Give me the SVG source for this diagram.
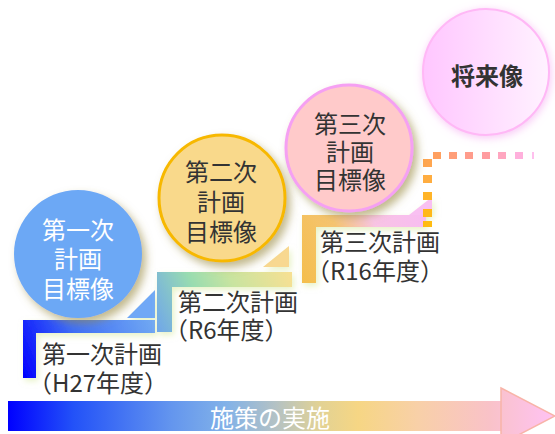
<svg xmlns="http://www.w3.org/2000/svg" width="555" height="434" viewBox="0 0 555 434">
<style>
  text { font-family: "Noto Sans CJK JP", "Noto Sans", sans-serif; font-size: 24px; dominant-baseline: central; }
  .cw { fill: #ffffff; text-anchor: middle; }
  .cd { fill: #333333; text-anchor: middle; }
  .lbl { fill: #333333; }
</style>
<defs>
  <filter id="shadow" x="-30%" y="-30%" width="170%" height="170%">
    <feDropShadow dx="4" dy="5" stdDeviation="4" flood-color="#9a8a40" flood-opacity="0.6"/>
  </filter>
  <filter id="pglow" x="-30%" y="-30%" width="160%" height="160%">
    <feDropShadow dx="1" dy="2" stdDeviation="4" flood-color="#f4a0f0" flood-opacity="0.6"/>
  </filter>
  <filter id="sglow" x="-20%" y="-20%" width="140%" height="150%">
    <feDropShadow dx="2" dy="3" stdDeviation="3" flood-color="#d8eaa0" flood-opacity="0.6"/>
  </filter>
  <linearGradient id="g1" gradientUnits="userSpaceOnUse" x1="23" y1="378" x2="155" y2="320">
    <stop offset="0" stop-color="#0000ff"/>
    <stop offset="0.45" stop-color="#3f6ef6"/>
    <stop offset="1" stop-color="#72aaf2"/>
  </linearGradient>
  <linearGradient id="g2" gradientUnits="userSpaceOnUse" x1="157" y1="332" x2="292" y2="272">
    <stop offset="0" stop-color="#6fa6ea"/>
    <stop offset="0.35" stop-color="#98dcb0"/>
    <stop offset="0.6" stop-color="#c8e4a0"/>
    <stop offset="1" stop-color="#f8e092"/>
  </linearGradient>
  <linearGradient id="g3" gradientUnits="userSpaceOnUse" x1="302" y1="283" x2="426" y2="215">
    <stop offset="0" stop-color="#f4be4c"/>
    <stop offset="0.4" stop-color="#f5c470"/>
    <stop offset="0.65" stop-color="#f8c4e4"/>
    <stop offset="1" stop-color="#f8bcf2"/>
  </linearGradient>
  <linearGradient id="g4" x1="0" y1="0" x2="1" y2="0">
    <stop offset="0" stop-color="#ffc6ff"/>
    <stop offset="1" stop-color="#fff2ff"/>
  </linearGradient>
  <linearGradient id="ga" gradientUnits="userSpaceOnUse" x1="8" y1="0" x2="555" y2="0">
    <stop offset="0" stop-color="#0000ff"/>
    <stop offset="0.12" stop-color="#2352f8"/>
    <stop offset="0.3" stop-color="#6496ee"/>
    <stop offset="0.4" stop-color="#82b2e8"/>
    <stop offset="0.49" stop-color="#b4c2c4"/>
    <stop offset="0.57" stop-color="#e2d294"/>
    <stop offset="0.64" stop-color="#f6d684"/>
    <stop offset="0.75" stop-color="#f8d0a8"/>
    <stop offset="0.88" stop-color="#f9c2c8"/>
    <stop offset="1" stop-color="#ffc2f4"/>
  </linearGradient>
</defs>

<rect width="555" height="434" fill="#ffffff"/>

<g id="steps">
  <g id="step1" filter="url(#sglow)">
    <polygon points="23,320 155,320 155,333 36,333 36,378 23,378" fill="url(#g1)"/>
    <polygon points="155,290 155,318 127,318" fill="#70a8f6"/>
  </g>
  <g id="step2" filter="url(#sglow)">
    <polygon points="157,272 292,272 292,287 172,287 172,332 157,332" fill="url(#g2)"/>
    <polygon points="289,246 289,267 263,267" fill="#f8d890"/>
  </g>
  <g id="step3" filter="url(#sglow)">
    <polygon points="302,215 426,215 426,227 316,227 316,283 302,283" fill="url(#g3)"/>
    <polygon points="432,197 432,215 409,215" fill="#f9c0f2"/>
  </g>
</g>

<g id="connectors">
  <rect x="423" y="221" width="9" height="6" fill="#ffbb10"/>
  <rect x="423" y="209" width="9" height="8" fill="#ffb818"/>
  <rect x="423" y="192" width="9" height="8" fill="#ffb428"/>
  <rect x="423" y="175" width="9" height="8" fill="#ffad40"/>
  <rect x="423" y="159" width="9" height="8" fill="#ffa650"/>
  <rect x="433" y="152" width="8" height="7" fill="#ffa060"/>
  <rect x="449" y="152" width="8" height="7" fill="#ff9e78"/>
  <rect x="465" y="152" width="8" height="7" fill="#ff9c8c"/>
  <rect x="482" y="152" width="8" height="7" fill="#ff9ca0"/>
  <rect x="498" y="152" width="8" height="7" fill="#ffa6c0"/>
  <rect x="515" y="152" width="8" height="7" fill="#ffb0dc"/>
  <rect x="532" y="152" width="2" height="7" fill="#ffc0ee"/>
</g>

<g id="arrow">
  <rect x="8" y="401" width="494" height="30" fill="url(#ga)"/>
  <polygon points="501,388 555,416 501,444" fill="url(#ga)" stroke="#f8b4a8" stroke-width="1.5"/>
  <text class="cw" x="270" y="416">施策の実施</text>
</g>

<g id="goal1">
  <circle cx="78" cy="254" r="64" fill="#6ca8f5" filter="url(#shadow)"/>
  <text class="cw"><tspan x="78" y="228">第一次</tspan><tspan x="78" y="257">計画</tspan><tspan x="78" y="287">目標像</tspan></text>
</g>

<g id="goal2">
  <circle cx="222" cy="198" r="63" fill="#f9d98b" stroke="#f7b800" stroke-width="3" filter="url(#shadow)"/>
  <text class="cd"><tspan x="221" y="170">第二次</tspan><tspan x="221" y="200">計画</tspan><tspan x="221" y="230">目標像</tspan></text>
</g>

<g id="goal3">
  <circle cx="349" cy="148" r="63" fill="#ffcaca" stroke="#f5a0f2" stroke-width="3" filter="url(#shadow)"/>
  <text class="cd"><tspan x="350" y="122">第三次</tspan><tspan x="350" y="150">計画</tspan><tspan x="350" y="178">目標像</tspan></text>
</g>

<g id="future">
  <circle cx="486" cy="72" r="63" fill="url(#g4)" stroke="#ffb8f6" stroke-width="2" filter="url(#pglow)"/>
  <text class="cd" x="487" y="74" font-weight="bold">将来像</text>
</g>

<g id="label1">
  <text class="lbl"><tspan x="42" y="352">第一次計画</tspan><tspan x="28" y="381">（H27年度）</tspan></text>
</g>
<g id="label2">
  <text class="lbl"><tspan x="178" y="300">第二次計画</tspan><tspan x="164" y="328">（R6年度）</tspan></text>
</g>
<g id="label3">
  <text class="lbl"><tspan x="320" y="240">第三次計画</tspan><tspan x="306" y="269">（R16年度）</tspan></text>
</g>
</svg>
